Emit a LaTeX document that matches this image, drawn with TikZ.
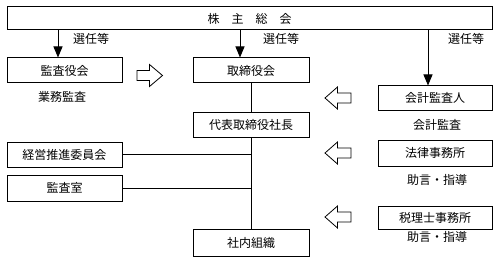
\documentclass[tikz,border=0pt]{standalone}
\usepackage{fontspec}
\newfontfamily\jp{Noto Sans CJK JP}
\usetikzlibrary{arrows.meta}
\begin{document}
\begin{tikzpicture}[x=1pt,y=-1pt,
  box/.style={draw,line width=1pt,inner sep=0pt,font=\jp\fontsize{12}{13}\selectfont},
  lbl/.style={inner sep=0pt,font=\jp\fontsize{12}{13}\selectfont},
  arr/.style={line width=1pt,-{Triangle[width=9pt,length=11pt]}},
  conn/.style={line width=1pt},
  hollow/.style={draw,line width=0.8pt,fill=white}]
\useasboundingbox (0,0) rectangle (501,262);
\node[box,minimum width=485pt,minimum height=23pt] (top) at (249.5,18.5) {株　主　総　会};
\node[box,minimum width=115pt,minimum height=25pt] (kansa) at (64.5,70.5) {監査役会};
\node[box,minimum width=116pt,minimum height=25pt] (tori) at (251,70.5) {取締役会};
\node[box,minimum width=116pt,minimum height=25pt] (daihyo) at (251,124.5) {代表取締役社長};
\node[box,minimum width=116pt,minimum height=27pt] (shanai) at (251,242.5) {社内組織};
\node[box,minimum width=115pt,minimum height=25pt] (keiei) at (64.5,154.5) {経営推進委員会};
\node[box,minimum width=115pt,minimum height=26pt] (shitsu) at (64.5,188) {監査室};
\node[box,minimum width=114pt,minimum height=24pt] (kaikei) at (435,98) {会計監査人};
\node[box,minimum width=114pt,minimum height=26pt] (houritsu) at (435,153) {法律事務所};
\node[box,minimum width=114pt,minimum height=23pt] (zeiri) at (435,218) {税理士事務所};
\node[lbl] (l1) at (91,39) {選任等};
\node[lbl] (l2) at (281,39) {選任等};
\node[lbl] (l3) at (466,39) {選任等};
\node[lbl] (gyomu) at (62,97) {業務監査};
\node[lbl] (kk) at (437,125) {会計監査};
\node[lbl] (j1) at (437,180) {助言・指導};
\node[lbl] (j2) at (437,237) {助言・指導};
% selection arrows
\draw[arr] ([xshift=-6.5pt]kansa.north |- top.south) -- ([xshift=-6.5pt]kansa.north);
\draw[arr] ([xshift=-11pt]tori.north |- top.south) -- ([xshift=-11pt]tori.north);
\draw[arr] ([xshift=-7pt]kaikei.north |- top.south) -- ([xshift=-7pt]kaikei.north);
% connectors
\draw[conn] (tori.south) -- (daihyo.north);
\draw[conn] (daihyo.south) -- (shanai.north);
\draw[conn] (keiei.east) -- (keiei.east -| daihyo.south);
\draw[conn] (shitsu.east) -- (shitsu.east -| daihyo.south);
% hollow arrows
\coordinate (h1) at (137,75.5);
\draw[hollow] (h1) ++(0,-5) -- ++(12.5,0) -- ++(0,-6) -- ++(13,11) -- ++(-13,11) -- ++(0,-6) -- ++(-12.5,0) -- cycle;
\foreach \y/\n in {98/h2,153/h3,217/h4}{
  \coordinate (\n) at (351,\y);
  \draw[hollow] (\n) ++(0,-5) -- ++(-13.5,0) -- ++(0,-6) -- ++(-12.5,11) -- ++(12.5,11) -- ++(0,-6) -- ++(13.5,0) -- cycle;
}
\end{tikzpicture}
\end{document}
